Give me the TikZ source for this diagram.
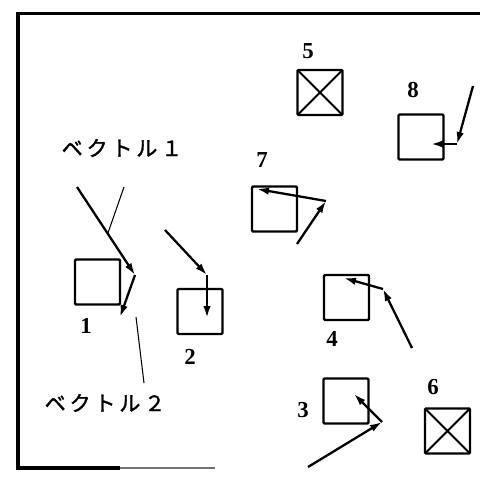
\documentclass[tikz,border=0pt]{standalone}
\usepackage{fontspec}
\setmainfont{Liberation Serif}
\newfontfamily\jpfont[FakeBold=1.5,LetterSpace=18]{Noto Sans CJK JP}
\usepackage{tikz}
\usetikzlibrary{arrows.meta,positioning,calc}

\begin{document}
\begin{tikzpicture}[
    x=0.2mm, y=-0.2mm, >={Latex[length=2.4mm,width=1.5mm]},
    box/.style={draw, line width=1.4pt, rounded corners=0.6pt, minimum size=9mm, inner sep=0pt},
    xbox/.style={box, path picture={
        \draw[line width=1.1pt] (path picture bounding box.north west) -- (path picture bounding box.south east)
            (path picture bounding box.north east) -- (path picture bounding box.south west);}},
    num/.style={font=\bfseries\fontsize{13}{13}\selectfont, inner sep=0pt},
    vname/.style={font=\jpfont\fontsize{12}{12}\selectfont, inner sep=0pt},
    vec/.style={->, line width=1.3pt},
    lead/.style={line width=0.6pt},
]
\useasboundingbox (0,0) rectangle (480,478);

% frame (right side open, bottom fades out)
\draw[line width=1.8pt] (480,13.5) -- (18,13.5) -- (18,468) -- (120,468);
\draw[line width=1.3pt, black!55] (120,468) -- (215,468);

% cells
\node[box]  (b1) at (97.5,282)  {};
\node[box]  (b2) at (200,311.5) {};
\node[box]  (b3) at (346,401)   {};
\node[box]  (b4) at (346.5,297.5) {};
\node[xbox] (b5) at (320,92.5)  {};
\node[xbox] (b6) at (447.5,431) {};
\node[box]  (b7) at (274.5,209) {};
\node[box]  (b8) at (421,137)   {};

% cell numbers
\node[num] (n1) at (86,326)  {1};
\node[num] (n2) at (190,357) {2};
\node[num] (n3) at (303,410) {3};
\node[num] (n4) at (332,339) {4};
\node[num] (n5) at (308,51)  {5};
\node[num] (n6) at (433,387) {6};
\node[num] (n7) at (262,160) {7};
\node[num] (n8) at (413,90)  {8};

% vector 1 + vector 2 for each cell
\coordinate (p1a) at (77,187);  \coordinate (p1b) at (135,275); \coordinate (p1c) at (120,317);
\coordinate (p2a) at (165,230); \coordinate (p2b) at (207,275); \coordinate (p2c) at (207,318);
\coordinate (p3a) at (308,467); \coordinate (p3b) at (382,422); \coordinate (p3c) at (354,394);
\coordinate (p4a) at (412,348); \coordinate (p4b) at (383,289); \coordinate (p4c) at (344,278);
\coordinate (p7a) at (297,244); \coordinate (p7b) at (326,201); \coordinate (p7c) at (257,189);
\coordinate (p8a) at (473,86);  \coordinate (p8b) at (457,144); \coordinate (p8c) at (431,144);
\foreach \k in {1,2,3,4,7,8}{
    \draw[vec] (p\k a) -- (p\k b);
    \draw[vec] (p\k b) -- (p\k c);
}

% names of the two vectors
\node[vname] (v1) at (122,148) {ベクトル１};
\node[vname] (v2) at (105,403) {ベクトル２};
\coordinate (l1) at (124,187);
\coordinate (l2) at (136,317);
\draw[lead] (l1) -- ($(p1a)!0.53!(p1b)$);
\draw[lead] (l2) -- (144,383);
\end{tikzpicture}
\end{document}
